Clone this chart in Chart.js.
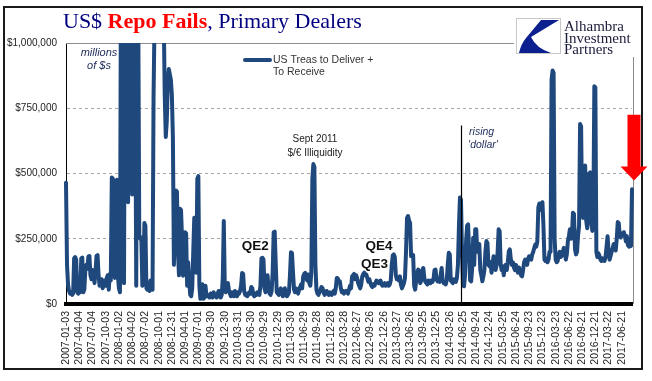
<!DOCTYPE html>
<html>
<head>
<meta charset="utf-8">
<script src="https://cdn.jsdelivr.net/npm/chart.js@4.4.1/dist/chart.umd.min.js"></script>
<style>
  html, body { margin: 0; padding: 0; background: #fff; }
</style>
</head>
<body>
<canvas id="repoChart" width="652" height="381"></canvas>
<script>
// Fallas semanales (miles de millones de US$), una semana por valor desde 2007-01-03
const fallas2007 = [465,150,75,50,40,45,35,40,175,180,170,45,40,60,45,175,178,45,55,130,150,135,182,184,110,95,130,120,80,125,185,187,110,70,85,95,60,75,90,70,100,110,55,115,90,485,480,120,100,470,476,108];
const fallas2008 = [60,45,1300,1600,390,80,1400,1800,1200,390,1500,2000,1300,420,1200,1600,900,70,1300,1100,260,250,255,70,80,310,300,60,55,75,50,90,60,55,790,1100,1500,2000,2500,2800,2400,2000,1600,1200,1100,800,640,700,850,900,880,860];
const fallas2009 = [800,640,150,300,435,430,200,110,365,360,250,108,150,275,270,70,160,90,35,30,60,200,330,320,120,480,490,70,20,30,76,20,25,70,30,35,30,25,40,30,25,45,35,30,25,40,50,30,25,35,100,318];
const fallas2010 = [60,45,70,80,55,40,30,45,35,30,50,35,30,45,40,50,70,119,115,50,35,40,30,35,45,40,65,60,35,30,40,35,45,40,35,70,175,177,170,60,45,75,110,60,40,35,50,120,275,277,160,45];
const fallas2011 = [40,35,45,60,40,30,35,60,40,30,35,45,110,198,195,120,55,45,60,50,40,55,65,75,60,105,115,119,100,90,113,80,70,120,480,536,525,150,55,40,35,45,55,65,60,45,35,40,50,40,35,45];
const fallas2012 = [40,35,45,50,40,60,100,98,85,87,60,45,50,40,45,50,45,40,55,70,60,105,110,115,95,110,100,80,70,60,75,105,115,120,110,113,100,85,95,80,70,65,75,70,80,90,85,80,85,90,75,70];
const fallas2013 = [75,80,70,75,80,70,75,90,150,186,190,180,110,95,100,90,106,75,60,70,80,100,200,330,337,320,310,183,190,188,70,55,90,120,132,100,80,90,130,138,100,85,80,75,90,85,80,90,85,95,130,132];
const fallas2014 = [95,87,90,85,110,138,90,80,85,75,90,150,196,190,90,85,80,95,90,85,100,150,300,408,400,200,70,68,110,240,300,305,200,90,87,138,254,150,286,286,200,222,230,130,110,87,106,130,200,241,234,150];
const fallas2015 = [145,160,120,150,183,160,130,150,200,286,279,150,130,145,110,140,150,130,160,202,209,170,150,160,140,130,150,135,120,140,125,110,106,130,160,170,165,150,175,183,180,170,190,200,215,228,220,240,370,385,360,380];
const fallas2016 = [390,300,170,165,175,160,170,200,200,860,895,885,250,170,160,165,190,200,180,185,200,215,210,170,190,240,260,286,250,260,350,345,210,190,200,260,300,690,680,350,330,520,530,320,290,330,500,504,320,280,330,834];
const fallas2017 = [830,200,180,195,185,170,165,175,170,165,180,220,260,200,170,185,200,215,230,210,205,250,314,310,260,255,270,265,275,260,240,260,225,220,230,222,440];

// Etiquetas del eje X (una cada 13 semanas)
const etiquetasX = ['2007-01-03','2007-04-04','2007-07-04','2007-10-03','2008-01-02','2008-04-02','2008-07-02','2008-10-01','2008-12-31','2009-04-01','2009-07-01','2009-09-30','2009-12-30','2010-03-31','2010-06-30','2010-09-29','2010-12-29','2011-03-30','2011-06-29','2011-09-28','2011-12-28','2012-03-28','2012-06-27','2012-09-26','2012-12-26','2013-03-27','2013-06-26','2013-09-25','2013-12-25','2014-03-26','2014-06-25','2014-09-24','2014-12-24','2015-03-25','2015-06-24','2015-09-23','2015-12-23','2016-03-23','2016-06-22','2016-09-21','2016-12-21','2017-03-22','2017-06-21'];
const valoresY = [0, 250, 500, 750, 1000];
const etiquetasY = ['$0', '$250,000', '$500,000', '$750,000', '$1,000,000'];
const nombreSerie = ['US Treas to Deliver +', 'To Receive'];
const partesTitulo = [
    { texto: 'US$ ', color: '#000080', negrita: false },
    { texto: 'Repo Fails', color: '#ff0000', negrita: true },
    { texto: ', Primary Dealers', color: '#000080', negrita: false }
];

const fallasSemanales = [].concat(fallas2007, fallas2008, fallas2009, fallas2010, fallas2011,
    fallas2012, fallas2013, fallas2014, fallas2015, fallas2016, fallas2017);
const colorLinea = '#1F497D';
const semanaDolar = 388; // línea vertical "rising 'dollar'"

//Plugin para el marco, titulo, logo, leyenda y notas
const decoracion = {
    id: 'decoracion',
    beforeDatasetsDraw(chart) {
        const { ctx, chartArea: a } = chart;
        ctx.save();
        ctx.strokeStyle = '#8c8c8c';
        ctx.lineWidth = 1;
        ctx.beginPath();
        ctx.moveTo(a.left, a.top + 0.5);
        ctx.lineTo(a.right + 2, a.top + 0.5);
        ctx.moveTo(a.right + 1.5, a.top);
        ctx.lineTo(a.right + 1.5, a.bottom);
        ctx.stroke();
        ctx.restore();
    },
    afterDraw(chart) {
        const { ctx, chartArea: a, scales: { x, y } } = chart;
        ctx.save();

        // titulo en tres colores
        let tx = 63;
        partesTitulo.forEach(p => {
            ctx.font = (p.negrita ? 'bold ' : '') + '22px "Liberation Serif"';
            ctx.fillStyle = p.color;
            ctx.textBaseline = 'alphabetic';
            ctx.textAlign = 'left';
            ctx.fillText(p.texto, tx, 28);
            tx += ctx.measureText(p.texto).width;
        });

        // logo
        ctx.fillStyle = '#fff';
        ctx.fillRect(514, 10, 127, 47);
        ctx.strokeStyle = '#c8c8c8';
        ctx.lineWidth = 1;
        ctx.strokeRect(516.5, 18.5, 44, 35);
        ctx.fillStyle = '#0b1f8f';
        ctx.beginPath();
        ctx.moveTo(541, 20);
        ctx.lineTo(559, 20);
        ctx.lineTo(531, 37);
        ctx.quadraticCurveTo(536, 48, 551, 53);
        ctx.lineTo(519, 53);
        ctx.quadraticCurveTo(521, 44, 526, 38);
        ctx.closePath();
        ctx.fill();
        ctx.fillStyle = '#1b1b3a';
        ctx.font = '15px "Liberation Serif"';
        ctx.fillText('Alhambra', 564, 31);
        ctx.fillText('Investment', 564, 42.5);
        ctx.fillText('Partners', 564, 54);

        // leyenda
        ctx.strokeStyle = colorLinea;
        ctx.lineWidth = 4;
        ctx.lineCap = 'round';
        ctx.beginPath();
        ctx.moveTo(245, 60);
        ctx.lineTo(270, 60);
        ctx.stroke();
        ctx.fillStyle = '#333';
        ctx.font = '10.5px "Liberation Sans"';
        ctx.textBaseline = 'middle';
        ctx.fillText(nombreSerie[0], 273, 60);
        ctx.fillText(nombreSerie[1], 273, 72);

        // notas sobre el grafico
        const nota = (texto, semana, valor, fuente, color) => {
            ctx.font = fuente;
            ctx.fillStyle = color;
            ctx.textAlign = 'center';
            ctx.textBaseline = 'middle';
            ctx.fillText(texto, x.getPixelForValue(semana), y.getPixelForValue(valor));
        };
        nota('millions', 32.4, 961, 'italic 11px "Liberation Sans"', '#1c2a5a');
        nota('of $s', 32.4, 912, 'italic 11px "Liberation Sans"', '#1c2a5a');
        nota('Sept 2011', 244.6, 630, '10px "Liberation Sans"', '#222');
        nota('$/€ Illiquidity', 244.6, 576, '10px "Liberation Sans"', '#222');
        nota('QE2', 186, 222, 'bold 13.5px "Liberation Sans"', '#111');
        nota('QE4', 307.5, 220, 'bold 13.5px "Liberation Sans"', '#111');
        nota('QE3', 303, 153, 'bold 13.5px "Liberation Sans"', '#111');
        nota('rising', 408.3, 658, 'italic 10.5px "Liberation Sans"', '#1c2a5a');
        nota("'dollar'", 409.6, 607, 'italic 10.5px "Liberation Sans"', '#1c2a5a');

        // linea vertical del dolar
        const xd = Math.round(x.getPixelForValue(semanaDolar)) + 0.5;
        ctx.strokeStyle = '#000';
        ctx.lineWidth = 1.2;
        ctx.lineCap = 'butt';
        ctx.beginPath();
        ctx.moveTo(xd, y.getPixelForValue(684));
        ctx.lineTo(xd, a.bottom);
        ctx.stroke();

        // marco exterior
        ctx.strokeStyle = '#1a1a1a';
        ctx.lineWidth = 2;
        ctx.strokeRect(4, 7, 638, 362);

        // flecha roja sobre el ultimo dato
        const xc = x.getPixelForValue(fallasSemanales.length - 1) + 2;
        const yTop = y.getPixelForValue(725), yCuello = y.getPixelForValue(527), yPunta = y.getPixelForValue(473);
        ctx.fillStyle = '#ff0000';
        ctx.beginPath();
        ctx.moveTo(xc - 6.5, yTop);
        ctx.lineTo(xc + 6.5, yTop);
        ctx.lineTo(xc + 6.5, yCuello);
        ctx.lineTo(xc + 13.5, yCuello);
        ctx.lineTo(xc, yPunta);
        ctx.lineTo(xc - 13.5, yCuello);
        ctx.lineTo(xc - 6.5, yCuello);
        ctx.closePath();
        ctx.fill();

        ctx.restore();
    }
};

const ctx = document.getElementById('repoChart').getContext('2d');
window.chartInstance = new Chart(ctx, {
    type: 'line',
    data: {
        datasets: [{
            label: nombreSerie.join(' '),
            data: fallasSemanales.map((v, i) => ({ x: i, y: v })),
            borderColor: colorLinea,
            backgroundColor: colorLinea,
            borderWidth: 4,
            borderJoinStyle: 'round',
            borderCapStyle: 'round',
            pointRadius: 0,
            tension: 0,
            clip: { left: 3, top: 0, right: 3, bottom: 3 }
        }]
    },
    options: {
        responsive: false,
        animation: false,
        devicePixelRatio: 1,
        layout: { padding: { top: 43, right: 20, left: 0, bottom: 0 } },
        plugins: {
            legend: { display: false },
            tooltip: { enabled: false }
        },
        scales: {
            x: {
                type: 'linear',
                min: 0,
                max: fallasSemanales.length - 1,
                afterBuildTicks: s => { s.ticks = etiquetasX.map((_, k) => ({ value: k * 13 })); },
                afterFit: s => { s.height = 77; },
                grid: { display: false, drawTicks: false },
                border: { display: true, color: '#000', width: 4 },
                ticks: {
                    autoSkip: false,
                    minRotation: 90,
                    maxRotation: 90,
                    padding: 7,
                    color: '#222',
                    font: { family: 'Liberation Sans', size: 10.5 },
                    callback: v => etiquetasX[Math.round(v / 13)]
                }
            },
            y: {
                min: 0,
                max: 1000,
                afterBuildTicks: s => { s.ticks = valoresY.map(v => ({ value: v })); },
                afterFit: s => { s.width = 66; },
                grid: {
                    drawTicks: false,
                    lineWidth: 1,
                    color: c => (c.tick && (c.tick.value === 0 || c.tick.value === 1000)) ? 'rgba(0,0,0,0)' : '#a6a6a6'
                },
                border: { display: true, color: '#000', width: 1, dash: [3, 3] },
                ticks: {
                    padding: 9,
                    color: '#222',
                    font: { family: 'Liberation Sans', size: 10 },
                    callback: v => etiquetasY[valoresY.indexOf(v)]
                }
            }
        }
    },
    plugins: [decoracion]
});
</script>
</body>
</html>
